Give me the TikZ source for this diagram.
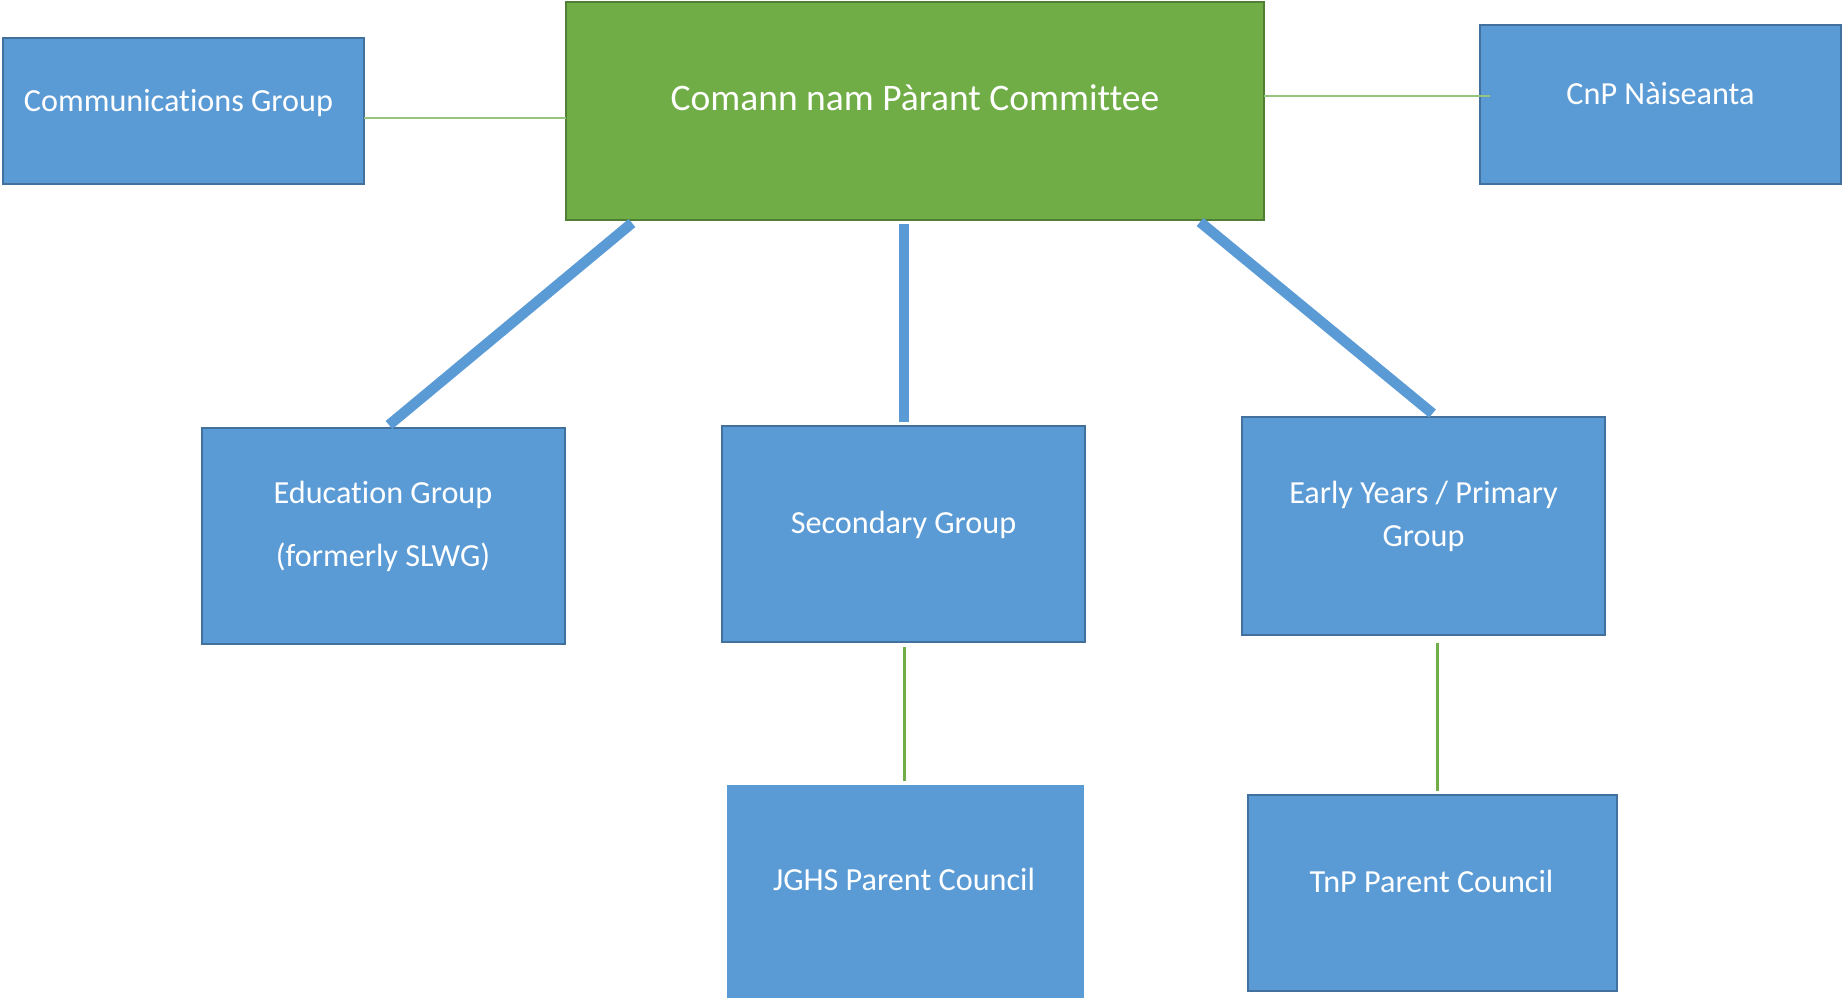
\documentclass[tikz,border=0pt]{standalone}
\usepackage{fontspec}
\setmainfont{Carlito}[Ligatures=NoCommon]
\usetikzlibrary{calc}
\definecolor{boxblue}{HTML}{5B9BD5}
\definecolor{boxblueline}{HTML}{41719C}
\definecolor{boxgreen}{HTML}{70AD47}
\definecolor{boxgreenline}{HTML}{507E32}
\definecolor{linkgreen}{HTML}{70AD47}
\definecolor{linklight}{HTML}{94C47D}
\tikzset{
  bluebox/.style={rectangle, fill=boxblue, draw=boxblueline, line width=2.5pt, inner sep=0pt, outer sep=0pt},
  flatbox/.style={rectangle, fill=boxblue, inner sep=0pt, outer sep=0pt},
  greenbox/.style={rectangle, fill=boxgreen, draw=boxgreenline, line width=2.5pt, inner sep=0pt, outer sep=0pt},
  lbl/.style={text=white, inner sep=0pt, anchor=base, font=\fontsize{32.2}{38}\selectfont},
  titlelbl/.style={text=white, inner sep=0pt, anchor=base, font=\fontsize{37.5}{45}\selectfont},
  thicklink/.style={draw=boxblue, line width=10.5pt, line cap=butt},
  thinlink/.style={draw=linkgreen, line width=3pt},
  hairlink/.style={draw=linklight, line width=2pt}
}
\begin{document}
\begin{tikzpicture}[x=1pt, y=-1pt]
\useasboundingbox (0,0) rectangle (1843,997);
% boxes
\node[greenbox, minimum width=698pt, minimum height=218pt] (committee) at (915,111) {};
\node[bluebox, minimum width=361pt, minimum height=146pt] (comms) at (183.5,111) {};
\node[bluebox, minimum width=361pt, minimum height=159pt] (cnp) at (1660.5,104.5) {};
\node[bluebox, minimum width=363pt, minimum height=216pt] (edu) at (383.5,536) {};
\node[bluebox, minimum width=363pt, minimum height=216pt] (sec) at (903.5,533.8) {};
\node[bluebox, minimum width=363pt, minimum height=218pt] (early) at (1423.5,526) {};
\node[flatbox, minimum width=357pt, minimum height=216pt] (jghs) at (905.5,893) {};
\node[bluebox, minimum width=369pt, minimum height=196pt] (tnp) at (1432.5,893) {};
% labels
\node[titlelbl] (committeetxt) at (915,110.7) {Comann nam Pàrant Committee};
\node[lbl] (commstxt) at (178.5,111) {Communications Group};
\node[lbl] (cnptxt) at (1660.5,104.3) {CnP Nàiseanta};
\node[lbl] (edutxta) at (383,503.3) {Education Group};
\node[lbl] (edutxtb) at (383,566.7) {(formerly SLWG)};
\node[lbl] (sectxt) at (903.5,533.6) {Secondary Group};
\node[lbl] (earlytxta) at (1423.5,503.8) {Early Years / Primary};
\node[lbl] (earlytxtb) at (1423.5,546) {Group};
\node[lbl] (jghstxt) at (904,890.5) {JGHS Parent Council};
\node[lbl] (tnptxt) at (1431.5,892.4) {TnP Parent Council};
% connectors
\draw[hairlink] ($(comms.east)+(0,6.7)$) -- ($(comms.east -| committee.west)+(0,6.7)$);
\draw[hairlink] ($(committee.east)+(0,-15)$) -- ($(committee.east -| cnp.west)+(10,-15)$);
\draw[thicklink] ($(committee.south west)+(66,3)$) -- ($(edu.north)+(5.5,-3)$);
\draw[thicklink] ($(sec.north |- committee.south)+(0.5,4)$) -- ($(sec.north)+(0.5,-3.5)$);
\draw[thicklink] ($(committee.south east)+(-64,2)$) -- ($(early.north)+(9,-3.5)$);
\draw[thinlink] ($(sec.south)+(0.5,5)$) -- ($(sec.south |- jghs.north)+(0.5,-4.5)$);
\draw[thinlink] ($(early.south)+(14,8)$) -- ($(early.south |- tnp.north)+(14,-4.5)$);
\end{tikzpicture}
\end{document}
